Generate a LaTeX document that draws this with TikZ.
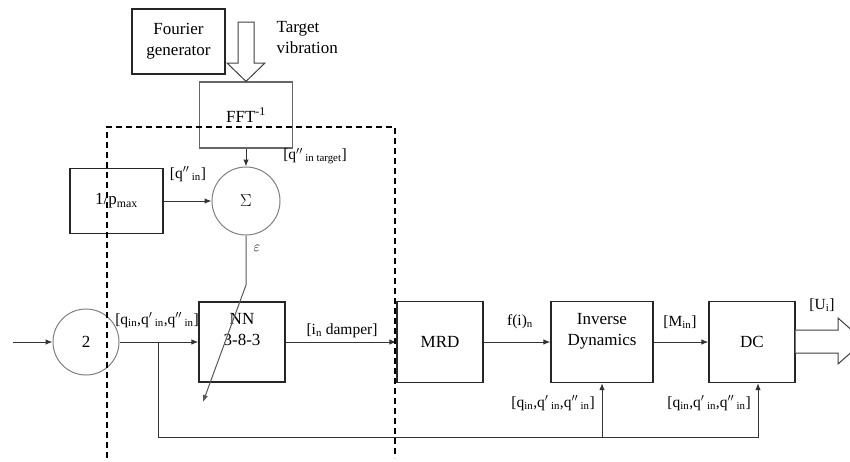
\documentclass[tikz,border=0pt]{standalone}
\usepackage{fontspec}
\setmainfont{Liberation Serif}
\usepackage{tikz}
\usetikzlibrary{positioning,arrows.meta}
\newcommand{\qset}{[q\textsubscript{in},q\textsuperscript{$\prime$}\,\textsubscript{in},q\textsuperscript{$\prime\prime$}\,\textsubscript{in}]}
\tikzset{
  blk/.style={draw=black!85, line width=1.25pt, minimum width=93pt, minimum height=65pt, inner sep=2pt, align=center},
  sumnode/.style={circle, draw=black!50, line width=1pt, minimum size=68pt, inner sep=0pt},
  sig/.style={-{Latex[length=7pt,width=5.5pt]}, draw=black!80, line width=1pt},
  lbl/.style={font=\fontsize{15.5}{18}\selectfont, inner sep=1pt},
  fatarrow/.style={draw=black!75, line width=1pt, fill=white},
  frame/.style={dash pattern=on 6pt off 4pt, line width=1.3pt}
}

\begin{document}
\begin{tikzpicture}[x=1pt,y=-1pt, font=\fontsize{17}{21}\selectfont]
  \useasboundingbox (0,0) rectangle (850,461);

  % Reference generation
  \node[blk] (fourier) at (178.5,41.5) {Fourier\\generator};
  \node[blk, minimum height=66pt, draw=black!60] (fft) at (246,115) {FFT\textsuperscript{-1}};
  \node[anchor=west, align=left] (target) at (273,38) {Target\\vibration};
  \draw[fatarrow] (238,22) -- (254,22) -- (254,63) -- (265,63) -- (fft.north)
    -- (227,63) -- (238,63) -- cycle;

  % Error summation
  \node[blk] (pmax) at (116.5,201) {1/p\textsubscript{max}};
  \node[sumnode] (sum) at (246,201) {$\Sigma$};
  \draw[sig] (fft) -- (sum);
  \draw[sig] (pmax) -- (sum);
  \node[lbl] at (315,156) {[q\textsuperscript{$\prime\prime$}\,\textsubscript{in target}]};
  \node[lbl] at (188,174) {[q\textsuperscript{$\prime\prime$}\,\textsubscript{in}]};
  \node[lbl] at (257,248) {$\varepsilon$};

  % Main chain
  \node[sumnode, minimum size=66pt] (two) at (86,342) {2};
  \node[blk, minimum width=86pt, minimum height=80pt] (nn) at (242,342) {};
  \node[below=8pt of nn.north, align=center] (nntxt) {NN\\3-8-3};
  \node[blk, minimum width=86pt, minimum height=81pt] (mrd) at (440,342) {MRD};
  \node[blk, minimum width=102pt, minimum height=81pt] (id) at (602,342) {};
  \node[below=9pt of id.north, align=center] (idtxt) {Inverse\\Dynamics};
  \node[blk, minimum width=86pt, minimum height=81pt] (dc) at (752,342) {DC};

  \coordinate (in) at (13,342);
  \draw[sig] (in) -- (two);
  \draw[sig] (two) -- (nn);
  \draw[sig] (nn) -- (mrd);
  \draw[sig] (mrd) -- (id);
  \draw[sig] (id) -- (dc);
  \draw[fatarrow] (dc.east |- 0,330) -- (838,330) -- (838,318) -- (864,341)
    -- (838,364) -- (838,353) -- (dc.east |- 0,353);

  \node[lbl] at (157,320) {\qset};
  \node[lbl] at (342,331) {[i\textsubscript{n} damper]};
  \node[lbl] at (520,322) {f(i)\textsubscript{n}};
  \node[lbl] at (680,322) {[M\textsubscript{in}]};
  \node[lbl] at (822,305) {[U\textsubscript{i}]};

  % Adaptation path into the network
  \coordinate (bend) at (246,285);
  \coordinate (nnadj) at (203,402);
  \draw[sig, draw=black!65] (sum.south) -- (bend) -- (nnadj);

  % Feedback of joint states
  \coordinate (split) at (158,342);
  \coordinate (fbbase) at (158,437);
  \draw[sig] (split) -- (fbbase) -| (id.south);
  \draw[sig] (fbbase -| id.south) -| ([xshift=6pt]dc.south);
  \node[lbl, anchor=east] at ([xshift=-6pt,yshift=-20pt]id.south) {\qset};
  \node[lbl, anchor=east] at ([yshift=-20pt]dc.south) {\qset};

  % Controller boundary
  \draw[frame] (107,458) -- (107,127) -- (395,127) -- (395,458);
\end{tikzpicture}
\end{document}
